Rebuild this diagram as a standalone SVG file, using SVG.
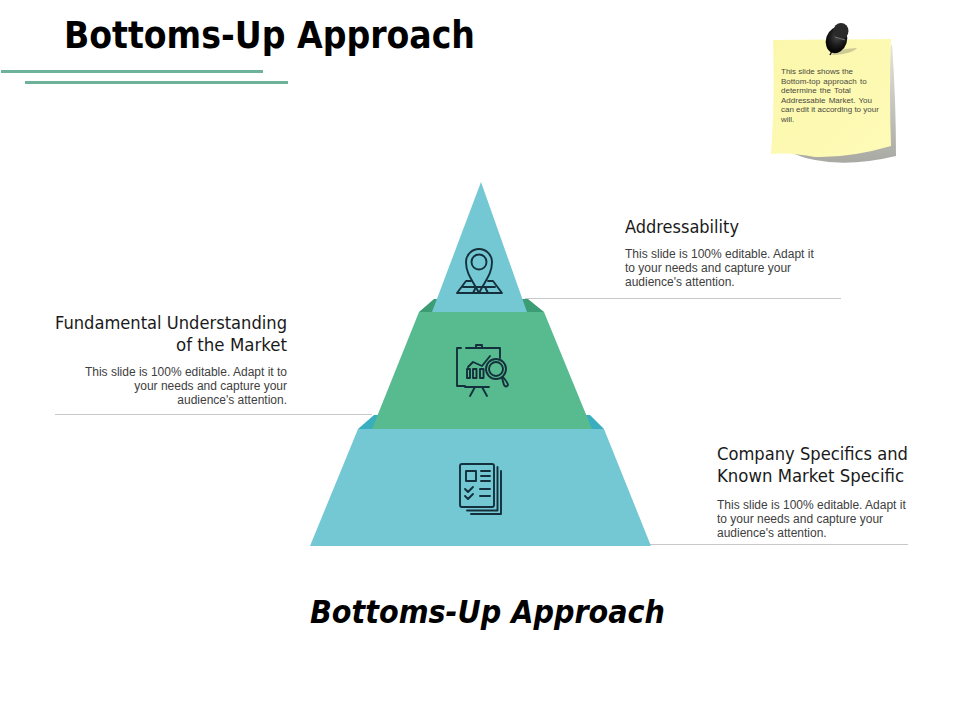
<svg xmlns="http://www.w3.org/2000/svg" width="960" height="720" viewBox="0 0 960 720">
<defs>
<linearGradient id="note" x1="0" y1="0" x2="1" y2="1"><stop offset="0" stop-color="#fbf7ab"/><stop offset="1" stop-color="#fefbb8"/></linearGradient>
<linearGradient id="shade" x1="0" y1="0" x2="0" y2="1"><stop offset="0" stop-color="#e4e4dc"/><stop offset="1" stop-color="#a9a9a4"/></linearGradient>
<radialGradient id="pin" cx="0.5" cy="0.35" r="0.65"><stop offset="0" stop-color="#4a4a4a"/><stop offset="0.55" stop-color="#1b1b1b"/><stop offset="1" stop-color="#000"/></radialGradient>
</defs>
<style>
.title{font-family:"DejaVu Sans",sans-serif;font-weight:700;font-stretch:condensed;fill:#000}
.head{font-family:"DejaVu Sans",sans-serif;font-stretch:condensed;font-size:17px;fill:#1a1a1a}
.body{font-family:"Liberation Sans",Arial,sans-serif;font-size:12px;fill:#404040}
.note{font-family:"Liberation Sans",Arial,sans-serif;font-size:8px;fill:#4a4a40}
.ic{fill:none;stroke:#14303c;stroke-width:1.900;stroke-linejoin:round;stroke-linecap:round}
.rule{stroke:#c8c8c8;stroke-width:1;fill:none}
</style>
<rect width="960" height="720" fill="#fff"/>
<g id="title"><text class="title" x="64" y="48" font-size="36.500" textLength="411" lengthAdjust="spacingAndGlyphs">Bottoms-Up Approach</text></g>
<g id="title-rules" fill="#6db39a"><rect x="1" y="70" width="262" height="3"/><rect x="25" y="81" width="263" height="3"/></g>
<g id="note-card">
<path d="M790 152 Q830 152 885 142 L889 50 L892 44 Q896 100 896 156 Q850 167 815 160 Q800 157 790 152 Z" fill="url(#shade)"/>
<path d="M773 40 L891 39 Q889 95 891 146 Q850 158 815 157 Q790 152 771 154 Q775 100 773 40 Z" fill="url(#note)"/>
<path d="M831 54 Q842 48 857 48 Q852 54 833 55 Z" fill="#cfcb95"/>
<path d="M833 49 L830 55" stroke="#222" stroke-width="1.500" fill="none"/>
<ellipse cx="836.500" cy="40" rx="10.500" ry="13.500" transform="rotate(18 836.500 40)" fill="url(#pin)"/>
<ellipse cx="841" cy="31" rx="7.500" ry="8" fill="#2a2a2a"/>
<path d="M835 37 L845 40" stroke="#777" stroke-width="1" fill="none"/>
<text class="note"><tspan x="781" y="74">This slide shows the</tspan><tspan x="781" y="83.500" word-spacing="1">Bottom-top approach  to</tspan><tspan x="781" y="93" word-spacing="1">determine  the Total</tspan><tspan x="781" y="102.500" word-spacing="1">Addressable  Market. You</tspan><tspan x="781" y="112">can edit it according  to your</tspan><tspan x="781" y="121.500">will.</tspan></text>
</g>
<g id="connectors">
<path class="rule" d="M525 298.500H841"/>
<path class="rule" d="M55 414.500H372"/>
<path class="rule" d="M650 544.500H908"/>
</g>
<g id="tier-bottom">
<path d="M358 429 L374 415 H590 L604 429 Z" fill="#38aebf"/>
<path d="M358 429 H604 L651 546 H310 Z" fill="#74c8d3"/>
<g class="ic">
<rect x="460" y="464" width="34" height="43" rx="2"/>
<path d="M497.500 467 V510.500 H467 M501 471 V514 H471"/>
<rect x="466" y="471" width="10" height="10"/>
<path d="M481 471 H490 M481 476 H490 M481 481 H490 M480 489 H490 M480 496 H490 M465 489 L468 492 L473 487 M465 496 L468 499 L473 494"/>
</g>
</g>
<g id="tier-middle">
<path d="M419 312 L434 299 H528 L544 312 Z" fill="#3c9c74"/>
<path d="M419 312 H544 L592 429 H372 Z" fill="#57bb8f"/>
<g class="ic">
<path d="M461 348 H457 V386 H465 M466 348 H500 V358 M476 348 V345 H482 V348"/>
<path d="M465 387 H489 M475 387 L470 396 M482 387 L487 396"/>
<path d="M468 367 L473 362 L482 366 L490 356"/>
<rect x="467" y="369" width="3" height="9"/><rect x="473" y="369" width="3.500" height="9"/><rect x="480" y="369" width="3.500" height="9"/>
<circle cx="496" cy="369" r="10"/><circle cx="496" cy="369" r="7"/>
<path d="M502 378 L504 385 Q506 388 508 385 Q508 383 503 377"/>
</g>
</g>
<g id="tier-top">
<path d="M481 182 L527 312 H432 Z" fill="#74c8d3"/>
<g class="ic">
<path d="M479 293 C473 281 466 274 466 262 A13 13 0 0 1 492 262 C492 274 485 281 479 293 Z"/>
<circle cx="479" cy="262" r="7.500"/>
<path d="M471 281 H466 L457 293 H502 L493 281 H488 M463 287 H495 M473 293 L476 287 M485 287 L488 293"/>
</g>
</g>
<g id="label-top">
<text class="head" x="625" y="233" textLength="114" lengthAdjust="spacingAndGlyphs">Addressability</text>
<text class="body"><tspan x="625" y="258">This slide is 100% editable. Adapt it</tspan><tspan x="625" y="272">to your needs and capture your</tspan><tspan x="625" y="286">audience's attention.</tspan></text>
</g>
<g id="label-middle">
<text class="head" x="55" y="329" textLength="232" lengthAdjust="spacingAndGlyphs">Fundamental Understanding</text>
<text class="head" x="176" y="351" textLength="111" lengthAdjust="spacingAndGlyphs">of the Market</text>
<text class="body" text-anchor="end"><tspan x="287" y="376">This slide is 100% editable. Adapt it to</tspan><tspan x="287" y="390">your needs and capture your</tspan><tspan x="287" y="404">audience's attention.</tspan></text>
</g>
<g id="label-bottom">
<text class="head" x="717" y="460" textLength="191" lengthAdjust="spacingAndGlyphs">Company Specifics and</text>
<text class="head" x="717" y="482" textLength="187" lengthAdjust="spacingAndGlyphs">Known Market Specific</text>
<text class="body"><tspan x="717" y="509">This slide is 100% editable. Adapt it</tspan><tspan x="717" y="523">to your needs and capture your</tspan><tspan x="717" y="537">audience's attention.</tspan></text>
</g>
<g id="caption"><text class="title" x="310" y="623" font-size="32" font-style="italic" textLength="355" lengthAdjust="spacingAndGlyphs">Bottoms-Up Approach</text></g>
</svg>
